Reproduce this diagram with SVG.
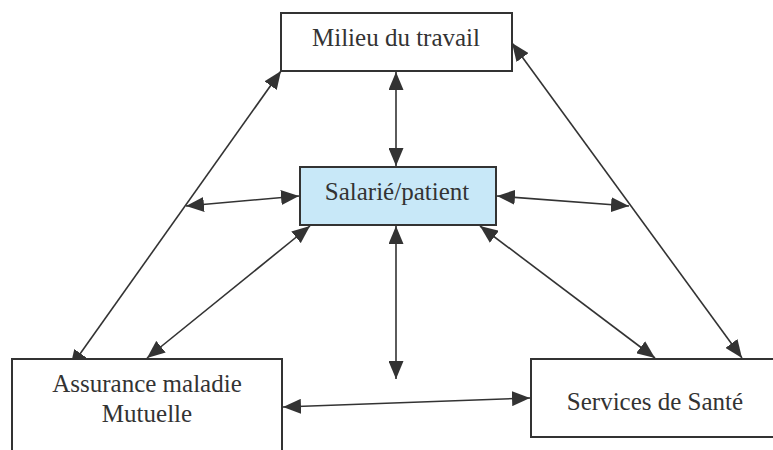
<svg xmlns="http://www.w3.org/2000/svg" width="773" height="450" viewBox="0 0 773 450">
  <style>
    .box { fill: #ffffff; stroke: #333333; stroke-width: 2; }
    .hl { fill: #c8e8f8; }
    .lbl { font-family: "Liberation Serif", "Times New Roman", serif; font-size: 25px; fill: #333333; text-anchor: middle; }
    .link { stroke: #333333; stroke-width: 1.6; fill: none; marker-start: url(#tip); marker-end: url(#tip); }
  </style>
  <defs>
    <marker id="tip" markerUnits="userSpaceOnUse" markerWidth="19" markerHeight="15" refX="18" refY="7.5" orient="auto-start-reverse" viewBox="0 0 19 15">
      <path d="M0,0 L18,7.5 L0,15 z" fill="#333333"/>
    </marker>
  </defs>
  <rect width="773" height="450" fill="#ffffff"/>

  <!-- connectors -->
  <g id="connectors">
    <line class="link" x1="396" y1="72" x2="396" y2="166"/>
    <line class="link" x1="396" y1="226" x2="396" y2="379"/>
    <line class="link" x1="281" y1="71" x2="70" y2="368"/>
    <line class="link" x1="512" y1="43" x2="742" y2="358"/>
    <line class="link" x1="299" y1="196" x2="186" y2="206"/>
    <line class="link" x1="497" y1="196" x2="629" y2="206"/>
    <line class="link" x1="310" y1="226" x2="147" y2="358"/>
    <line class="link" x1="480" y1="226" x2="655" y2="358"/>
    <line class="link" x1="283" y1="407" x2="530" y2="398"/>
  </g>

  <g id="milieu">
    <rect class="box" x="281" y="13" width="231" height="58"/>
    <text class="lbl" x="396" y="46">Milieu du travail</text>
  </g>

  <g id="salarie">
    <rect class="box hl" x="300" y="167" width="196" height="58"/>
    <text class="lbl" x="397" y="200">Salarié/patient</text>
  </g>

  <g id="assurance">
    <rect class="box" x="12" y="359" width="270" height="120"/>
    <text class="lbl" x="147" y="392">Assurance maladie</text>
    <text class="lbl" x="147" y="422">Mutuelle</text>
  </g>

  <g id="services">
    <rect class="box" x="531" y="359" width="260" height="78"/>
    <text class="lbl" x="655" y="410">Services de Santé</text>
  </g>
</svg>
